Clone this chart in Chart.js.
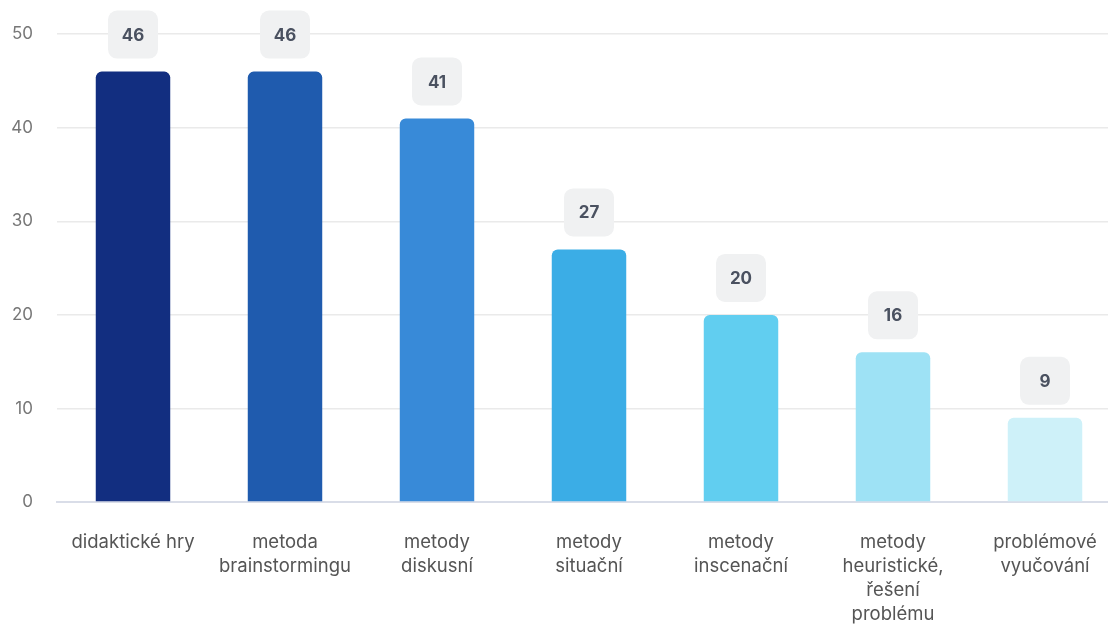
<!DOCTYPE html>
<html>
<head>
<meta charset="utf-8">
<script src="https://cdn.jsdelivr.net/npm/chart.js@4/dist/chart.umd.min.js"></script>
<style>
  html, body { margin: 0; padding: 0; background: #fff; overflow: hidden; }
  #wrap { position: relative; width: 1124px; height: 626px; }
</style>
</head>
<body>
<div id="wrap"><canvas id="c"></canvas></div>
<script>
const categories = [
  "didaktické hry",
  ["metoda", "brainstormingu"],
  ["metody", "diskusní"],
  ["metody", "situační"],
  ["metody", "inscenační"],
  ["metody", "heuristické,", "řešení", "problému"],
  ["problémové", "vyučování"]
];
const values = [46, 46, 41, 27, 20, 16, 9];
const barColors = ["#122e80", "#1f5bae", "#388ad8", "#3bade6", "#61cef0", "#9ee2f5", "#cef1f9"];
const yTicks = [0, 10, 20, 30, 40, 50];

const valueBoxes = {
  id: 'valueBoxes',
  afterDatasetsDraw(chart) {
    const ctx = chart.ctx;
    const meta = chart.getDatasetMeta(0);
    ctx.save();
    meta.data.forEach((bar, i) => {
      const w = 50, h = 48, r = 9;
      const cx = bar.x;
      const bottom = bar.y - 13;
      const x = cx - w / 2, y = bottom - h;
      ctx.beginPath();
      ctx.roundRect(x, y, w, h, r);
      ctx.fillStyle = '#f0f1f2';
      ctx.fill();
      ctx.fillStyle = '#4a5160';
      ctx.font = 'bold 17px Inter';
      ctx.textAlign = 'center';
      ctx.textBaseline = 'middle';
      ctx.fillText(String(values[i]), cx, y + h / 2 + 1);
    });
    ctx.restore();
  }
};

new Chart(document.getElementById('c'), {
  type: 'bar',
  data: {
    labels: categories,
    datasets: [{
      data: values,
      backgroundColor: barColors,
      borderRadius: { topLeft: 6, topRight: 6, bottomLeft: 0, bottomRight: 0 },
      borderSkipped: 'start',
      barPercentage: 0.49,
      categoryPercentage: 1.0
    }]
  },
  options: {
    responsive: true,
    maintainAspectRatio: false,
    animation: false,
    layout: { padding: { top: 23, left: 12, right: 3, bottom: 0 } },
    plugins: { legend: { display: false }, tooltip: { enabled: false } },
    scales: {
      x: {
        grid: { display: false, drawTicks: false },
        border: { color: '#d9dde8', width: 2 },
        afterFit(axis) { axis.height = 124; axis.paddingLeft = 0; axis.paddingRight = 0; },
        ticks: {
          color: '#555555',
          font: { family: 'Inter', size: 18.5, lineHeight: 1.3 },
          padding: 28,
          maxRotation: 0,
          autoSkip: false
        }
      },
      y: {
        min: 0, max: 50,
        afterFit(axis) { axis.width = 45; },
        afterBuildTicks(axis) { axis.ticks = yTicks.map(v => ({ value: v })); },
        grid: { color: '#eaeaea', drawTicks: false, lineWidth: 1.5 },
        border: { display: false },
        ticks: {
          color: '#777777',
          font: { family: 'Inter', size: 17 },
          padding: 24
        }
      }
    }
  },
  plugins: [valueBoxes]
});
</script>
</body>
</html>
